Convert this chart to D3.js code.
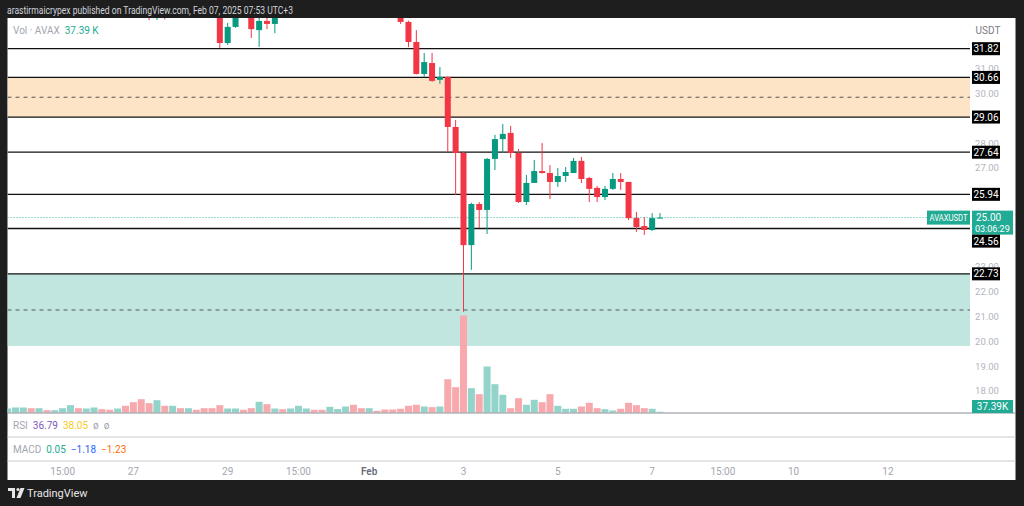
<!DOCTYPE html>
<html><head><meta charset="utf-8">
<script src="https://cdn.jsdelivr.net/npm/d3@7"></script>
<style>html,body{margin:0;padding:0;background:#1e1e1e;}svg{display:block;font-family:Roboto,'Noto Sans',sans-serif;}</style>
</head><body><svg id="c" width="1024" height="506"></svg>
<script>
// ---- data (4h candles, AVAXUSDT) ----
const opens  = [35.6,35.8,36.0,36.2,35.9,36.0,35.9,36.0,36.2,36.6,36.3,36.5,36.7,36.4,36.1,36.2,35.4,34.5,33.7,33.4,34.1,33.6,34.2,33.9,34.1,33.9,33.6,33.4,32.05,32.70,33.5,33.3,32.57,32.94,32.82,33.3,33.2,33.7,34.1,34.2,34.0,33.8,34.2,34.3,34.6,34.0,33.7,33.9,33.8,33.6,33.4,32.90,32.09,30.80,31.24,30.56,30.68,28.66,27.61,23.89,25.55,25.31,27.37,28.17,28.42,27.61,25.63,26.40,26.88,26.80,26.44,26.68,26.80,27.29,26.60,26.20,25.83,26.16,26.56,26.44,24.98,24.66,24.50,24.98];
const highs  = [35.9,36.2,36.4,36.3,36.2,36.1,36.1,36.3,36.8,36.7,36.6,36.9,36.8,36.5,36.4,36.3,35.5,34.7,34.0,34.3,34.3,34.4,34.4,34.3,34.2,34.0,33.8,33.6,32.86,33.5,33.8,33.5,33.3,33.2,33.5,33.6,33.8,34.3,34.4,34.3,34.1,34.4,34.5,34.8,34.7,34.1,34.0,34.0,33.9,33.7,33.5,32.95,32.57,31.65,31.65,31.08,30.70,28.94,27.65,25.60,25.63,27.41,28.34,28.78,28.70,27.77,26.72,27.33,28.01,27.12,27.00,27.04,27.41,27.45,26.64,26.28,26.28,26.80,26.80,26.44,25.23,25.02,25.18,25.18];
const lows   = [35.3,35.6,35.8,35.7,35.7,35.8,35.8,35.9,36.1,36.1,36.2,36.3,36.3,36.0,35.9,35.2,34.2,33.3,32.97,32.98,33.0,33.5,33.8,33.7,33.8,33.4,33.2,31.85,31.97,32.66,33.1,32.25,31.89,32.61,32.45,33.15,33.15,33.6,33.9,33.9,33.7,33.7,34.0,34.1,33.9,33.6,33.5,33.7,33.5,33.3,32.82,31.88,30.78,30.68,30.48,30.40,27.65,25.91,21.20,22.89,24.58,24.34,26.92,27.61,27.41,25.59,25.51,26.40,26.78,25.75,26.24,26.44,26.80,26.40,25.63,25.63,25.71,26.12,26.12,24.90,24.42,24.30,24.46,24.98];
const closes = [35.8,36.0,36.2,35.9,36.0,35.9,36.0,36.2,36.6,36.3,36.5,36.7,36.4,36.1,36.2,35.4,34.5,33.7,33.4,34.1,33.6,34.2,33.9,34.1,33.9,33.6,33.4,32.05,32.70,33.2,33.3,32.61,32.94,32.82,33.3,33.2,33.7,34.1,34.2,34.0,33.8,34.2,34.3,34.6,34.0,33.7,33.9,33.8,33.6,33.4,32.90,32.09,30.80,31.28,30.52,30.68,28.66,27.61,23.89,25.55,25.31,27.37,28.17,28.38,27.61,25.63,26.40,26.88,26.80,26.44,26.68,26.84,27.29,26.56,26.16,25.83,26.16,26.56,26.44,24.98,24.62,24.50,24.98,25.00];
const volumes = [220,275,275,237,237,127,127,237,402,237,220,275,182,149,220,369,567,732,512,677,369,369,237,237,149,237,237,402,220,220,149,237,589,457,220,182,220,369,220,149,149,314,193,330,424,237,237,94,165,165,204,369,424,330,292,330,1832,1392,5335,1337,1007,2530,1557,974,237,787,424,699,567,1007,369,204,204,330,534,237,182,110,204,534,402,237,204,37.39];
const levelPrices = [31.82,30.66,29.06,27.64,25.94,24.56,22.73];
const zones = [{top:30.66,bottom:29.06,mid:29.86,fill:"#fde4c7"},{top:22.73,bottom:19.82,mid:21.27,fill:"#c0e6df"}];
const priceTicks = [31,30,28,27,23,22,21,20,19,18];
const timeTickIdx = [7,16,28,37,46,58,70,82,91,100,112];
const timeTickLabels = ["15:00","27","29","15:00","Feb","3","5","7","15:00","10","12"];
const lastPrice = 25.00, countdown = "03:06:29", lastVolLabel = "37.39K";
const rsiVals = ["36.79","38.05"], macdVals = ["0.05","\u22121.18","\u22121.23"];

// ---- layout ----
const L = 7.5, R = 1015.5, T = 18, B = 480, axisX = 970;
const paneBottom = 413, rsiBottom = 437, macdBottom = 461;
const svg = d3.select("#c");
const UP = "#089981", DN = "#f23645";

svg.append("rect").attr("width",1024).attr("height",506).attr("fill","#1e1e1e");
svg.append("rect").attr("x",L).attr("y",T).attr("width",R-L).attr("height",B-T).attr("fill","#ffffff");

const x = d3.scaleLinear().domain([0, opens.length-1]).range([7.6, 660]);
const y = d3.scaleLinear().domain([18, 31]).range([391, 69]);
const yv = d3.scaleLinear().domain([0, d3.max(volumes)]).range([412.5, 315.5]);

svg.append("clipPath").attr("id","pane").append("rect").attr("x",L).attr("y",T).attr("width",axisX-L).attr("height",paneBottom-T);
const pane = svg.append("g").attr("clip-path","url(#pane)");

// zones
zones.forEach(z=>{
  pane.append("rect").attr("x",L).attr("width",axisX-L).attr("y",y(z.top)).attr("height",y(z.bottom)-y(z.top)).attr("fill",z.fill);
  pane.append("line").attr("x1",L).attr("x2",axisX).attr("y1",y(z.mid)).attr("y2",y(z.mid)).attr("stroke","#555").attr("stroke-width",1).attr("stroke-dasharray","4,4");
});
// volume
pane.selectAll(".vol").data(volumes).join("rect")
  .attr("x",(d,i)=>x(i)-3.5).attr("width",7).attr("y",d=>yv(d)).attr("height",d=>yv(0)-yv(d))
  .attr("fill",(d,i)=>closes[i]>=opens[i]?"#92d3ca":"#f8a9ad");
// level lines
pane.selectAll(".lvl").data(levelPrices).join("line")
  .attr("x1",L).attr("x2",axisX).attr("y1",d=>y(d)).attr("y2",d=>y(d)).attr("stroke","#111").attr("stroke-width",1.3);
// current price line
pane.append("line").attr("x1",L).attr("x2",axisX).attr("y1",y(lastPrice)).attr("y2",y(lastPrice)).attr("stroke","#22ab94").attr("stroke-width",1).attr("stroke-dasharray","1,2");
// candles
const idx = d3.range(opens.length);
pane.selectAll(".wick").data(idx).join("line")
  .attr("x1",i=>x(i)).attr("x2",i=>x(i)).attr("y1",i=>y(highs[i])).attr("y2",i=>y(lows[i]))
  .attr("stroke",i=>closes[i]>=opens[i]?UP:DN).attr("stroke-width",1);
pane.selectAll(".body").data(idx).join("rect")
  .attr("x",i=>x(i)-3).attr("width",6)
  .attr("y",i=>y(Math.max(opens[i],closes[i])))
  .attr("height",i=>Math.max(1,Math.abs(y(opens[i])-y(closes[i]))))
  .attr("fill",i=>closes[i]>=opens[i]?UP:DN);

// pane separators
svg.append("line").attr("x1",L).attr("x2",R).attr("y1",paneBottom).attr("y2",paneBottom).attr("stroke","#8a8d96").attr("stroke-width",1);
[rsiBottom, macdBottom].forEach(v=>svg.append("line").attr("x1",L).attr("x2",R).attr("y1",v).attr("y2",v).attr("stroke","#c8cbd2").attr("stroke-width",1));

// price axis ticks
svg.selectAll(".pt").data(priceTicks).join("text")
  .attr("x",987).attr("y",d=>y(d)).attr("dy","0.35em").attr("text-anchor","middle")
  .attr("font-size",9.5).attr("fill","#b2b5be").text(d=>d.toFixed(2));
svg.append("text").attr("x",988).attr("y",30).attr("dy","0.35em").attr("text-anchor","middle").attr("font-size",10).attr("fill","#787b86").text("USDT");

// current price label
const cy = y(lastPrice);
svg.append("rect").attr("x",927).attr("y",cy-7).attr("width",43).attr("height",14).attr("fill","#22ab94");
svg.append("text").attr("x",929.5).attr("y",cy).attr("dy","0.35em").attr("font-size",9).attr("fill","#fff")
  .attr("textLength",38).attr("lengthAdjust","spacingAndGlyphs").text("AVAXUSDT");
svg.append("rect").attr("x",972).attr("y",cy-7).attr("width",41).attr("height",24).attr("fill","#22ab94");
svg.append("text").attr("x",976).attr("y",cy).attr("dy","0.35em").attr("font-size",10).attr("fill","#fff").text(lastPrice.toFixed(2));
svg.append("text").attr("x",975).attr("y",cy+11).attr("dy","0.35em").attr("font-size",9).attr("fill","#fff").text(countdown);

// level labels with collision push
let prevBottom = -Infinity;
const curTop = cy-7, curBot = cy+17;
levelPrices.slice().sort((a,b)=>b-a).forEach(p=>{
  let c = y(p);
  if (c+6.5 > curTop && c-6.5 < curBot) c = curBot + 6.5;
  c = Math.max(c, prevBottom + 6.5);
  prevBottom = c + 6.5;
  svg.append("rect").attr("x",972).attr("y",c-6.5).attr("width",28).attr("height",13).attr("fill","#000");
  svg.append("text").attr("x",986).attr("y",c).attr("dy","0.35em").attr("text-anchor","middle").attr("font-size",10).attr("fill","#fff").text(p.toFixed(2));
});

// volume label
const vy = Math.min(yv(volumes[volumes.length-1]), paneBottom-6.5);
svg.append("rect").attr("x",972).attr("y",vy-6.5).attr("width",41).attr("height",13).attr("fill","#22ab94");
svg.append("text").attr("x",992.5).attr("y",vy).attr("dy","0.35em").attr("text-anchor","middle").attr("font-size",10).attr("fill","#fff").text(lastVolLabel);

// time axis
svg.selectAll(".tt").data(timeTickIdx).join("text")
  .attr("x",d=>x(d)).attr("y",471).attr("dy","0.35em").attr("text-anchor","middle")
  .attr("font-size",10).attr("fill",(d,i)=>timeTickLabels[i]==="Feb"?"#6a6d78":"#a3a6af")
  .attr("font-weight",(d,i)=>timeTickLabels[i]==="Feb"?600:400)
  .text((d,i)=>timeTickLabels[i]);

// legends
function legend(yy, parts){
  const t = svg.append("text").attr("x",13).attr("y",yy).attr("dy","0.35em").attr("font-size",10);
  parts.forEach(([s,c],k)=>t.append("tspan").attr("fill",c).attr("dx",k?5:0).text(s));
}
legend(30,[["Vol \u00b7 AVAX","#a3a6af"],["37.39 K","#22ab94"]]);
legend(425,[["RSI","#a3a6af"],[rsiVals[0],"#7e57c2"],[rsiVals[1],"#f9c825"],["\u00f8","#a3a6af"],["\u00f8","#a3a6af"]]);
legend(449,[["MACD","#a3a6af"],[macdVals[0],"#22ab94"],[macdVals[1],"#2962ff"],[macdVals[2],"#ff6d00"]]);

// header & footer
svg.append("text").attr("x",7).attr("y",10).attr("dy","0.35em").attr("font-size",10.5).attr("fill","#d1d4dc")
  .attr("textLength",286).attr("lengthAdjust","spacingAndGlyphs")
  .text("arastirmaicrypex published on TradingView.com, Feb 07, 2025 07:53 UTC+3");
const logo = svg.append("g").attr("fill","#e6e6e6");
logo.append("rect").attr("x",8).attr("y",488).attr("width",7).attr("height",3);
logo.append("rect").attr("x",12).attr("y",488).attr("width",3).attr("height",10);
logo.append("circle").attr("cx",18).attr("cy",489.5).attr("r",1.6);
logo.append("path").attr("d","M20.5 488 L24.5 488 L20.5 498 L16.5 498 Z");
svg.append("text").attr("x",27).attr("y",493).attr("dy","0.35em").attr("font-size",11).attr("fill","#e6e6e6").text("TradingView");
</script></body></html>
